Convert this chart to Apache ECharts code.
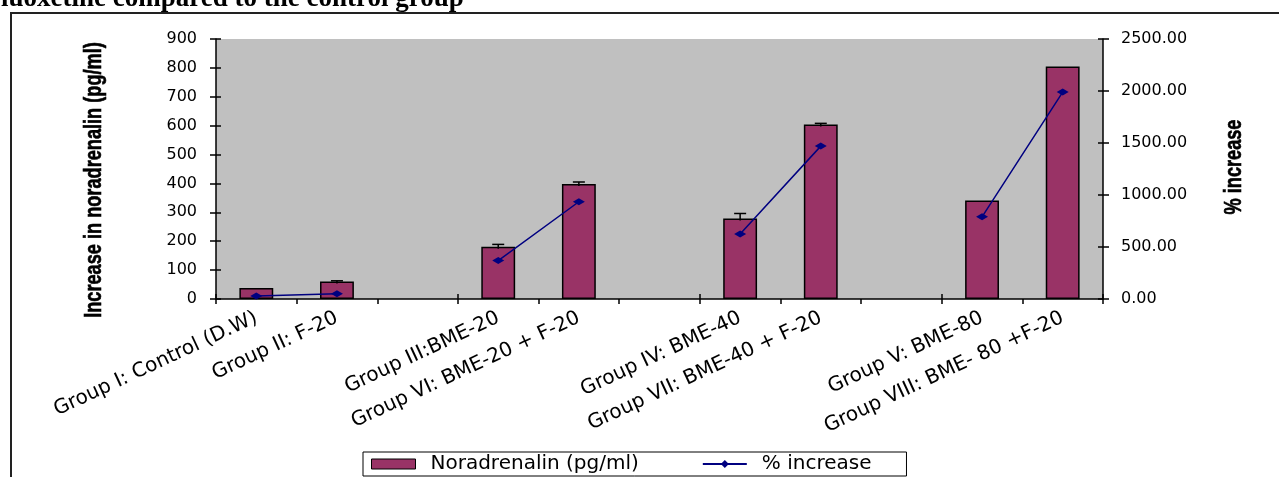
<!DOCTYPE html>
<html>
<head>
<meta charset="utf-8">
<script src="https://cdn.jsdelivr.net/npm/echarts@6/dist/echarts.min.js"></script>
<style>
html,body{margin:0;padding:0;background:#fff;}
#chart{width:1279px;height:477px;}
</style>
</head>
<body>
<div id="chart"></div>
<script>
var categories = ['Group I: Control (D.W)', 'Group II: F-20', ' ', 'Group III:BME-20', 'Group VI: BME-20 + F-20', '  ', 'Group IV: BME-40', 'Group VII: BME-40 + F-20', '   ', 'Group V: BME-80', 'Group VIII: BME- 80 +F-20'];
var noradrenalin = [38, 61, null, 181, 398, null, 279, 604, null, 341, 805];
var noradrenalinErr = [0, 2, null, 8, 7, null, 17, 4, null, 0, 0];
var pctIncrease = [30, 50, null, 370, 935, null, 625, 1470, null, 790, 1990];
var leftTicks = {min: 0, max: 900, interval: 100};
var rightTicks = {min: 0, max: 2500, interval: 500};
var leftTitle = 'Increase in noradrenalin (pg/ml)';
var rightTitle = '% increase';
var headerText = 'fluoxetine compared to the control group';

var chart = echarts.init(document.getElementById('chart'), null, {renderer: 'canvas'});
var labelFont = 'DejaVu Sans';
var titleFont = 'bold 23px "Liberation Sans", Arial, sans-serif';
var errData = noradrenalin.map(function (v, i) { return [i, v, noradrenalinErr[i]]; });

var option = {
  animation: false,
  backgroundColor: '#ffffff',
  graphic: [
    {type: 'text', left: -8, top: -14, z: 10,
     style: {text: headerText, font: 'bold 27px "Liberation Serif", "Times New Roman", serif', fill: '#000'}},
    {type: 'rect', shape: {x: 11, y: 13, width: 1400, height: 600}, z: 10,
     style: {fill: 'none', stroke: '#222', lineWidth: 2}},
    {type: 'text', x: 95, y: 180, rotation: Math.PI / 2, scaleX: 0.79, z: 10,
     style: {text: leftTitle, font: titleFont, fill: '#000', stroke: '#000', lineWidth: 0.6, align: 'center', verticalAlign: 'middle'}},
    {type: 'text', x: 1235, y: 167, rotation: Math.PI / 2, scaleX: 0.79, z: 10,
     style: {text: rightTitle, font: titleFont, fill: '#000', stroke: '#000', lineWidth: 0.6, align: 'center', verticalAlign: 'middle'}}
  ],
  grid: {left: 216, right: 176, top: 39, bottom: 178, show: true, backgroundColor: '#c0c0c0', borderWidth: 0},
  legend: {
    left: 363, top: 452, orient: 'horizontal',
    borderColor: '#000', borderWidth: 1, padding: [2, 35, 2, 8],
    itemGap: 63, itemWidth: 44, itemHeight: 10,
    textStyle: {fontFamily: labelFont, fontSize: 20, color: '#000', padding: [0, 0, 0, 10]},
    data: [
      {name: 'Noradrenalin (pg/ml)', icon: 'rect', itemStyle: {color: '#993366', borderColor: '#000', borderWidth: 1}},
      {name: '% increase'}
    ]
  },
  xAxis: [
    {type: 'category', data: categories, gridIndex: 0, position: 'bottom',
     axisLine: {show: true, lineStyle: {color: '#000', width: 1.5}},
     axisTick: {show: true, length: 5, lineStyle: {color: '#000', width: 1.5}},
     axisLabel: {interval: 0, rotate: 25, margin: 18, fontFamily: labelFont, fontSize: 20, color: '#000'},
     splitLine: {show: false}},
    {type: 'category', data: categories, gridIndex: 0, position: 'bottom',
     axisLine: {show: false}, axisLabel: {show: false},
     axisTick: {show: true, inside: true, length: 5, lineStyle: {color: '#000', width: 1.5}},
     splitLine: {show: false}}
  ],
  yAxis: [
    {type: 'value', min: leftTicks.min, max: leftTicks.max, interval: leftTicks.interval, position: 'left',
     axisLine: {show: true, lineStyle: {color: '#000', width: 1.5}},
     axisTick: {show: true, length: 6, lineStyle: {color: '#000', width: 1.5}},
     axisLabel: {margin: 19, fontFamily: labelFont, fontSize: 16, color: '#000'},
     splitLine: {show: false}},
    {type: 'value', min: rightTicks.min, max: rightTicks.max, interval: rightTicks.interval, position: 'right',
     axisLine: {show: true, lineStyle: {color: '#000', width: 1.5}},
     axisTick: {show: true, length: 6, lineStyle: {color: '#000', width: 1.5}},
     axisLabel: {margin: 18, fontFamily: labelFont, fontSize: 16, color: '#000', formatter: function (v) { return v.toFixed(2); }},
     splitLine: {show: false}},
    {type: 'value', min: leftTicks.min, max: leftTicks.max, interval: leftTicks.interval, position: 'left',
     axisLine: {show: false}, axisLabel: {show: false},
     axisTick: {show: true, inside: true, length: 5, lineStyle: {color: '#000', width: 1.5}},
     splitLine: {show: false}},
    {type: 'value', min: rightTicks.min, max: rightTicks.max, interval: rightTicks.interval, position: 'right',
     axisLine: {show: false}, axisLabel: {show: false},
     axisTick: {show: true, inside: true, length: 5, lineStyle: {color: '#000', width: 1.5}},
     splitLine: {show: false}}
  ],
  series: [
    {name: 'Noradrenalin (pg/ml)', type: 'bar', xAxisIndex: 0, yAxisIndex: 0, data: noradrenalin,
     barWidth: '42%', itemStyle: {color: '#993366', borderColor: '#000', borderWidth: 1.5}, z: 2},
    {name: 'error', type: 'custom', xAxisIndex: 0, yAxisIndex: 0, data: errData, z: 3,
     renderItem: function (params, api) {
       var v = api.value(1), e = api.value(2);
       if (v == null || isNaN(v) || !e) return null;
       var p0 = api.coord([api.value(0), v]);
       var p1 = api.coord([api.value(0), v + e]);
       return {type: 'group', children: [
         {type: 'line', shape: {x1: p0[0], y1: p0[1] + 2, x2: p1[0], y2: p1[1]}, style: {stroke: '#000', lineWidth: 1.5}},
         {type: 'line', shape: {x1: p1[0] - 6, y1: p1[1], x2: p1[0] + 6, y2: p1[1]}, style: {stroke: '#000', lineWidth: 1.5}}
       ]};
     }},
    {name: '% increase', type: 'line', xAxisIndex: 0, yAxisIndex: 1, data: pctIncrease,
     connectNulls: false, symbol: 'diamond', symbolSize: [12, 7],
     lineStyle: {color: '#000080', width: 1.5}, itemStyle: {color: '#000080'}, z: 4}
  ]
};
chart.setOption(option);
</script>
</body>
</html>
